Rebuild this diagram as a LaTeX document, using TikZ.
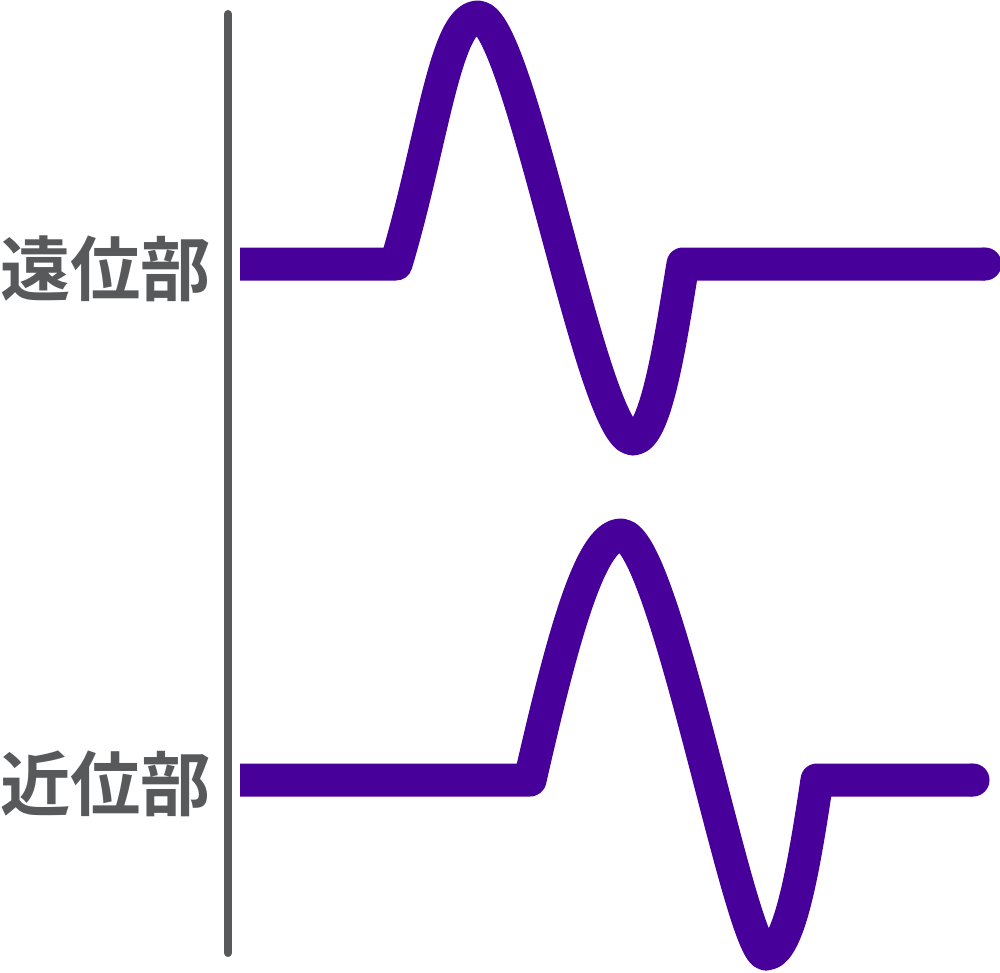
\documentclass[tikz,border=0pt]{standalone}
\usepackage{fontspec}
\setmainfont{Noto Sans CJK JP}[BoldFont={* Bold}]
\definecolor{wavepurple}{HTML}{470099}
\definecolor{axisgray}{HTML}{58595B}

\begin{document}
\begin{tikzpicture}[x = 0.01cm, y = -0.01cm,
        wave/.style = {line width = 0.33cm, draw = wavepurple, line join = round},
        axis/.style = {line width = 0.08cm, draw = axisgray, line cap = round},
        part/.style = {anchor = base east, inner sep = 0pt, text = axisgray,
                       font = \bfseries\fontsize{20pt}{20pt}\selectfont}]
            \useasboundingbox (0, 0) rectangle (1000, 972);

            \draw [axis] (228, 14) -- (228, 953);

            \node [part] (distal) at (212, 295) {遠位部};
            \node [part] (proximal) at (212, 810) {近位部};

            % distal wave
            \draw [wave] (240, 264) -- (396, 264)
                  .. controls (432, 144) and (445, 17) .. (478, 17)
                  .. controls (520, 17) and (592, 439) .. (633, 439)
                  .. controls (657, 439) and (672, 330) .. (683, 264)
                  -- (985, 264) coordinate (distalend);
            \fill [wavepurple] (distalend) circle (0.165cm);

            % proximal wave
            \draw [wave] (240, 780) -- (530, 780)
                  .. controls (562, 640) and (590, 535) .. (621, 535)
                  .. controls (665, 535) and (740, 954) .. (766, 954)
                  .. controls (790, 954) and (805, 860) .. (817, 780)
                  -- (973, 780) coordinate (proximalend);
            \fill [wavepurple] (proximalend) circle (0.165cm);
        \end{tikzpicture}
\end{document}
